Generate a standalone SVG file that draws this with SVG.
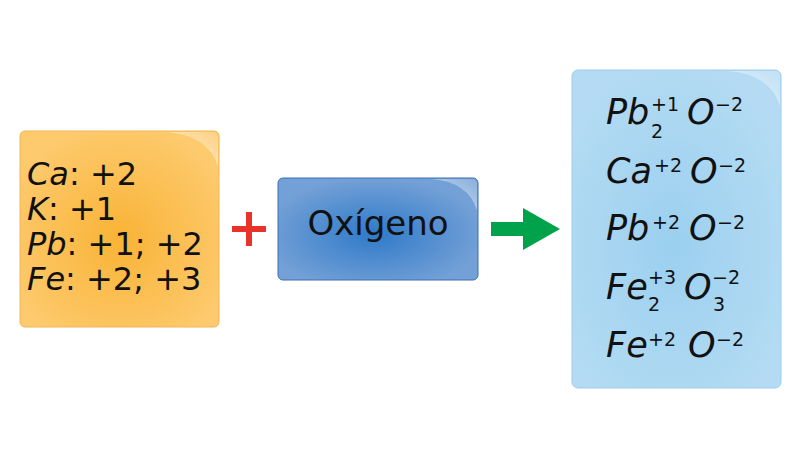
<svg xmlns="http://www.w3.org/2000/svg" width="800" height="458" viewBox="0 0 800 458">
<defs>
<radialGradient id="gOr" cx="0.5" cy="0.55" r="0.6">
<stop offset="0" stop-color="#f9b336"/>
<stop offset="1" stop-color="#fdca6e"/>
</radialGradient>
<radialGradient id="gBl" cx="0.48" cy="0.55" r="0.55">
<stop offset="0" stop-color="#2f7ac9"/>
<stop offset="1" stop-color="#73a0d6"/>
</radialGradient>
<radialGradient id="gLb" cx="0.48" cy="0.55" r="0.6">
<stop offset="0" stop-color="#9bd0ef"/>
<stop offset="1" stop-color="#b4dbf3"/>
</radialGradient>
<linearGradient id="gGloss" x1="1" y1="0" x2="0" y2="1">
<stop offset="0" stop-color="#fff" stop-opacity="0.15"/>
<stop offset="0.7" stop-color="#fff" stop-opacity="0.55"/>
<stop offset="1" stop-color="#fff" stop-opacity="0.8"/>
</linearGradient>
</defs>
<style>
.t{font-family:"DejaVu Sans","Verdana",sans-serif;fill:#111}
.i{font-style:italic}
.big{font-size:32px}
.f{font-size:35px}
.s{font-size:19px}
</style>
<rect width="800" height="458" fill="#fff"/>

<g id="elements">
<rect x="20" y="131" width="199" height="196" rx="5" fill="url(#gOr)" stroke="#f2b552" stroke-width="1"/>
<path d="M168,132 L213,132 Q218,132 218,137 L218,166 Q208,136 168,132 Z" fill="url(#gGloss)"/>
<text class="t big" x="27" y="185"><tspan class="i">Ca</tspan>: +2</text>
<text class="t big" x="27" y="220"><tspan class="i">K</tspan>: +1</text>
<text class="t big" x="27" y="255"><tspan class="i">Pb</tspan>: +1; +2</text>
<text class="t big" x="27" y="290"><tspan class="i">Fe</tspan>: +2; +3</text>
</g>

<g id="oxigeno">
<rect x="278" y="178" width="200" height="102" rx="5" fill="url(#gBl)" stroke="#3d6fb2" stroke-width="1"/>
<path d="M432,179 L472,179 Q477,179 477,184 L477,210 Q468,182 432,179 Z" fill="url(#gGloss)"/>
<text class="t" x="378" y="235" font-size="34" text-anchor="middle">Oxígeno</text>
</g>

<g id="products">
<rect x="572" y="70" width="209" height="318" rx="6" fill="url(#gLb)" stroke="#9dcdec" stroke-width="1"/>
<path d="M728,71 L775,71 Q780,71 780,76 L780,106 Q770,74 728,71 Z" fill="url(#gGloss)"/>
<g class="t">
<text class="f i" x="606" y="124">Pb</text>
<text class="s" x="651" y="111">+1</text>
<text class="s" x="651" y="138">2</text>
<text class="f i" x="687" y="124">O</text>
<text class="s" x="715" y="111">−2</text>

<text class="f i" x="606" y="183">Ca</text>
<text class="s" x="654" y="172">+2</text>
<text class="f i" x="690" y="183">O</text>
<text class="s" x="718" y="172">−2</text>

<text class="f i" x="606" y="240">Pb</text>
<text class="s" x="652" y="229">+2</text>
<text class="f i" x="689" y="240">O</text>
<text class="s" x="717" y="229">−2</text>

<text class="f i" x="606" y="299">Fe</text>
<text class="s" x="648" y="284">+3</text>
<text class="s" x="648" y="311">2</text>
<text class="f i" x="684" y="299">O</text>
<text class="s" x="712" y="284">−2</text>
<text class="s" x="713" y="311">3</text>

<text class="f i" x="606" y="357">Fe</text>
<text class="s" x="648" y="346">+2</text>
<text class="f i" x="688" y="357">O</text>
<text class="s" x="716" y="346">−2</text>
</g>
</g>

<g id="connectors">
<path d="M232,226 H266 V232 H232 Z M246,212 H252 V246 H246 Z" fill="#e8332a"/>
<path d="M491,222 H523 V208 L560,229 L523,250 V236 H491 Z" fill="#00a24b"/>
</g>
</svg>
